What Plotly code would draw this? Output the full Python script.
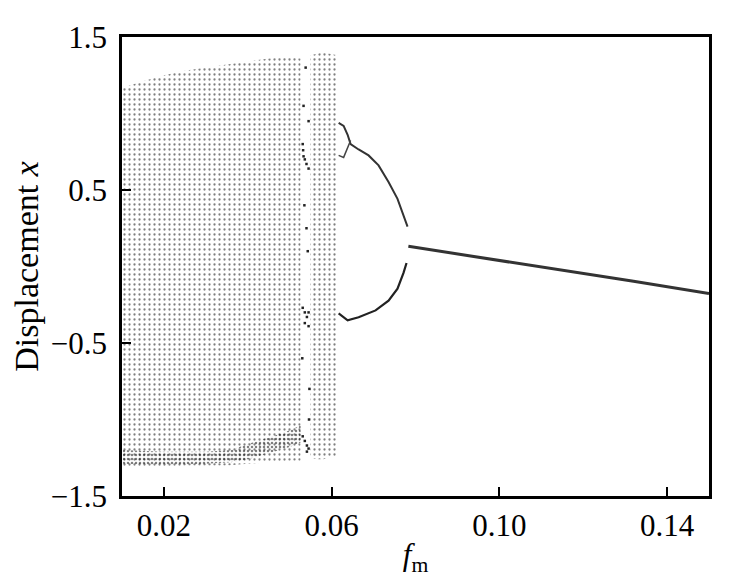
import plotly.graph_objects as go

# ---- data ----
# chaotic band 1 (envelope of scattered Poincaré points)
band1_f = [0.0102, 0.015, 0.020, 0.025, 0.030, 0.035, 0.040, 0.045, 0.050, 0.0526]
band1_upper = [1.17, 1.21, 1.25, 1.28, 1.30, 1.32, 1.34, 1.36, 1.37, 1.36]
band1_lower = [-1.31, -1.31, -1.31, -1.30, -1.30, -1.30, -1.29, -1.28, -1.27, -1.27]

# denser strip near the bottom of band 1
dense_f = [0.0102, 0.020, 0.030, 0.036, 0.040, 0.045, 0.050, 0.0526]
dense_upper = [-1.20, -1.21, -1.21, -1.20, -1.16, -1.12, -1.07, -1.04]
dense_lower = [-1.29, -1.30, -1.29, -1.28, -1.26, -1.22, -1.18, -1.15]

# chaotic band 2
band2_f = [0.0549, 0.0565, 0.0580, 0.0595, 0.0614]
band2_upper = [1.38, 1.39, 1.40, 1.39, 1.38]
band2_lower = [-1.25, -1.26, -1.26, -1.25, -1.24]

# sparse points in the window between the bands
gap_f = [0.0531, 0.0532, 0.0533, 0.0536, 0.0540, 0.0545,
         0.0531, 0.0536, 0.0541, 0.0545, 0.0536, 0.0545,
         0.0531, 0.0536, 0.0541, 0.0545, 0.0541,
         0.0533, 0.0540, 0.0547, 0.0538, 0.0545, 0.0530, 0.0543, 0.0535, 0.0546]
gap_x = [0.80, 0.76, 0.72, 0.70, 0.67, 0.64,
         -0.27, -0.30, -0.33, -0.30, -0.37, -0.39,
         -1.11, -1.14, -1.17, -1.19, -1.21,
         1.05, 0.25, -0.80, 1.30, 0.95, -0.60, 0.10, 0.40, -1.00]

# period-2 branches
p2u_f = [0.06167, 0.06286, 0.06381, 0.06452, 0.06643, 0.06881, 0.07119, 0.07357, 0.07571, 0.07714, 0.07810]
p2u_x = [0.939, 0.919, 0.861, 0.800, 0.765, 0.726, 0.661, 0.552, 0.442, 0.339, 0.261]
# short side branch near the onset
p4_f = [0.06167, 0.06286, 0.06452]
p4_x = [0.726, 0.713, 0.823]
p2l_f = [0.06167, 0.06381, 0.06643, 0.07048, 0.07357, 0.07571, 0.07714, 0.07786]
p2l_x = [-0.306, -0.352, -0.332, -0.287, -0.223, -0.145, -0.042, 0.023]

# period-1 branch
p1_f = [0.0783, 0.0960, 0.1138, 0.1320, 0.1500]
p1_x = [0.132, 0.058, -0.018, -0.097, -0.177]

# axis ticks
xtick_vals = [0.02, 0.06, 0.10, 0.14]
xtick_text = ["0.02", "0.06", "0.10", "0.14"]
ytick_vals = [-1.5, -0.5, 0.5, 1.5]
ytick_text = ["\u22121.5", "\u22120.5", "0.5", "1.5"]

FONT = "Liberation Serif"

fig = go.Figure()


def band(fs, up, lo, size, solidity, color):
    return go.Scatter(
        x=list(fs) + list(fs[::-1]),
        y=list(up) + list(lo[::-1]),
        fill="toself", mode="none",
        fillcolor="rgba(0,0,0,0)",
        fillpattern=dict(shape=".", size=size, solidity=solidity,
                         fgcolor=color, bgcolor="rgba(0,0,0,0)"),
        hoverinfo="skip", showlegend=False,
    )


for (fs, up, lo) in [(band1_f, band1_upper, band1_lower),
                     (band2_f, band2_upper, band2_lower)]:
    fig.add_trace(band(fs, up, lo, 5, 0.16, "#000"))
fig.add_trace(band(dense_f, dense_upper, dense_lower, 4, 0.3, "#000"))

fig.add_trace(go.Scatter(x=gap_f, y=gap_x, mode="markers",
                         marker=dict(size=2.5, color="#222", symbol="square"),
                         showlegend=False, hoverinfo="skip"))
fig.add_trace(go.Scatter(x=p2u_f, y=p2u_x, mode="lines",
                         line=dict(color="#333", width=2),
                         showlegend=False))
fig.add_trace(go.Scatter(x=p4_f, y=p4_x, mode="lines",
                         line=dict(color="#444", width=1.5),
                         showlegend=False))
fig.add_trace(go.Scatter(x=p2l_f, y=p2l_x, mode="lines",
                         line=dict(color="#222", width=2.2),
                         showlegend=False))
fig.add_trace(go.Scatter(x=p1_f, y=p1_x, mode="lines",
                         line=dict(color="#333", width=3),
                         showlegend=False))

axis_common = dict(
    showgrid=False, zeroline=False, showline=True, linecolor="black",
    linewidth=2.5, mirror=True, ticks="inside", ticklen=9, tickwidth=2,
    tickcolor="black", tickfont=dict(family=FONT, size=31, color="black"),
    ticklabeloverflow="allow",
)

fig.update_layout(
    width=729, height=576,
    margin=dict(l=114, r=28, t=15, b=88),
    paper_bgcolor="white", plot_bgcolor="white",
    font=dict(family=FONT, color="black"),
    xaxis=dict(range=[0.01, 0.15], tickvals=xtick_vals, ticktext=xtick_text,
               title=dict(text="<i>f</i><sub>m</sub>", font=dict(family=FONT, size=31),
                          standoff=2),
               **axis_common),
    yaxis=dict(range=[-1.5, 1.5], tickvals=ytick_vals, ticktext=ytick_text,
               ticklabelstandoff=6,
               title=dict(text="Displacement <i>x</i>", font=dict(family=FONT, size=34),
                          standoff=6),
               **axis_common),
)

fig.write_html("out.html")
